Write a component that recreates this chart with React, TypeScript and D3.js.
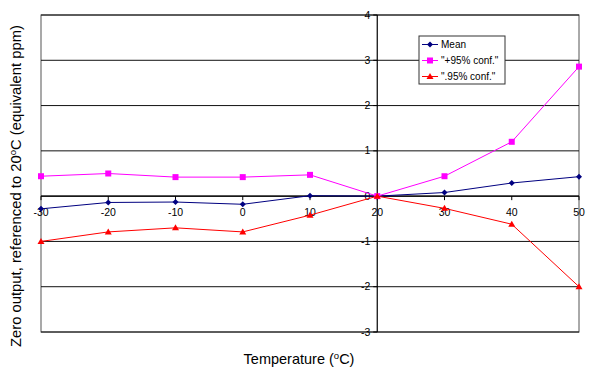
import React from "react";
import * as d3 from "d3";

const temps = [-30, -20, -10, 0, 10, 20, 30, 40, 50];
const meanVals = [-0.28, -0.14, -0.13, -0.18, 0.01, 0, 0.08, 0.29, 0.43];
const plusVals = [0.44, 0.5, 0.42, 0.42, 0.47, 0, 0.44, 1.2, 2.86];
const minusVals = [-1.0, -0.79, -0.7, -0.79, -0.42, 0, -0.27, -0.62, -2.0];
const yTicks = [-3, -2, -1, 0, 1, 2, 3, 4];
const xTicks = [-30, -20, -10, 0, 10, 20, 30, 40, 50];
const seriesNames = ["Mean", '"+95% conf."', '".95% conf."'];

const W = 589, H = 377;
const L = 41, R = 579, T = 15, B = 332;

export default function App() {
  const x = d3.scaleLinear().domain([-30, 50]).range([L, R]);
  const y = d3.scaleLinear().domain([-3, 4]).range([B, T]);
  const line = d3.line<number>().x((_, i) => x(temps[i])).y((v) => y(v));
  const series = [
    { name: seriesNames[0], vals: meanVals, color: "#000080", shape: "diamond" },
    { name: seriesNames[1], vals: plusVals, color: "#FF00FF", shape: "square" },
    { name: seriesNames[2], vals: minusVals, color: "#FF0000", shape: "triangle" },
  ];
  const marker = (shape: string, cx: number, cy: number, color: string, key: any) => {
    if (shape === "diamond") {
      const s = 3;
      return <path key={key} d={`M${cx},${cy - s}L${cx + s},${cy}L${cx},${cy + s}L${cx - s},${cy}Z`} fill={color} />;
    }
    if (shape === "square") {
      return <rect key={key} x={cx - 3} y={cy - 3} width={6} height={6} fill={color} />;
    }
    return <path key={key} d={`M${cx},${cy - 3.5}L${cx + 3.5},${cy + 2.5}L${cx - 3.5},${cy + 2.5}Z`} fill={color} />;
  };
  const x0 = x(20), y0 = y(0);
  const font = "Arial, 'Liberation Sans', sans-serif";
  const legX = 419, legY = 36, legW = 86, legH = 48;
  return (
    <svg width={W} height={H} style={{ position: "absolute", left: 0, top: 0, background: "#fff" }} fontFamily={font}>
      <rect x={L} y={T} width={R - L} height={B - T} fill="none" stroke="#555" strokeWidth={1} />
      {yTicks.map((t) => (
        <line key={"g" + t} x1={L} x2={R} y1={y(t)} y2={y(t)} stroke="#111" strokeWidth={1} />
      ))}
      <line x1={x0} x2={x0} y1={T} y2={B} stroke="#000" strokeWidth={1.2} />
      <line x1={L} x2={R} y1={y0} y2={y0} stroke="#000" strokeWidth={1.2} />
      {xTicks.map((t) => (
        <line key={"xt" + t} x1={x(t)} x2={x(t)} y1={y0} y2={y0 + 4} stroke="#000" />
      ))}
      {yTicks.map((t) => (
        <line key={"yt" + t} x1={x0 - 4} x2={x0} y1={y(t)} y2={y(t)} stroke="#000" />
      ))}
      {xTicks.map((t) => (
        <text key={"xl" + t} x={x(t)} y={y0 + 20} fontSize={10.5} textAnchor="middle" fill="#000">{t}</text>
      ))}
      {yTicks.map((t) => (
        <text key={"yl" + t} x={x0 - 7} y={y(t) + 3.5} fontSize={10.5} textAnchor="end" fill="#000">{t}</text>
      ))}
      {series.map((s) => (
        <g key={s.name}>
          <path d={line(s.vals) || ""} fill="none" stroke={s.color} strokeWidth={1} />
          {s.vals.map((v, i) => marker(s.shape, x(temps[i]), y(v), s.color, i))}
        </g>
      ))}
      <rect x={legX} y={legY} width={legW} height={legH} fill="#fff" stroke="#333" strokeWidth={1} />
      {series.map((s, i) => {
        const ly = legY + 8.5 + i * 16;
        return (
          <g key={"lg" + i}>
            <line x1={legX + 3} x2={legX + 19} y1={ly} y2={ly} stroke={s.color} strokeWidth={1} />
            {marker(s.shape, legX + 11, ly, s.color, "m")}
            <text x={legX + 22} y={ly + 3.5} fontSize={10} fill="#000">{s.name}</text>
          </g>
        );
      })}
      <text x={299} y={364} fontSize={14.5} textAnchor="middle" fill="#000">
        Temperature  (<tspan fontSize={9.5} dy={-5}>o</tspan><tspan dy={5}>C)</tspan>
      </text>
      <text transform={`translate(21,${186}) rotate(-90)`} fontSize={14.8} textAnchor="middle" fill="#000">
        Zero output, referenced to 20<tspan fontSize={9.5} dy={-5}>o</tspan><tspan dy={5}>C (equivalent ppm)</tspan>
      </text>
    </svg>
  );
}
